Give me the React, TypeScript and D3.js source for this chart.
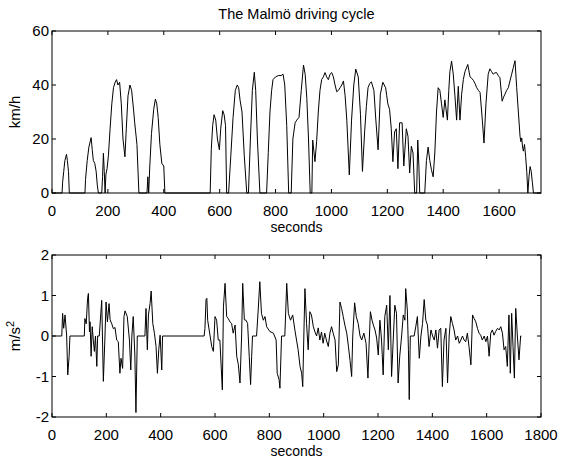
import React from "react";
import * as d3 from "d3";

// Speed profile (seconds, km/h)
const speedT = [0, 36, 38, 42, 46, 52, 55, 59, 62, 118, 120, 126, 132, 140, 144, 148, 153, 158, 162, 166, 178, 181, 184, 187, 190, 193, 197, 202, 208, 214, 220, 226, 231, 236, 242, 248, 254, 261, 266, 272, 279, 285, 292, 296, 299, 304, 311, 340, 343, 346, 350, 356, 364, 370, 375, 380, 386, 393, 400, 404, 566, 570, 575, 580, 586, 592, 599, 604, 611, 616, 621, 625, 632, 640, 648, 656, 663, 668, 673, 680, 688, 697, 703, 710, 717, 724, 729, 735, 744, 768, 774, 780, 786, 791, 800, 810, 820, 827, 833, 840, 847, 856, 862, 870, 876, 884, 892, 900, 906, 912, 918, 924, 930, 933, 941, 947, 953, 959, 965, 971, 977, 983, 989, 995, 1001, 1007, 1013, 1019, 1025, 1031, 1037, 1043, 1049, 1055, 1064, 1072, 1080, 1087, 1096, 1104, 1111, 1119, 1125, 1131, 1137, 1143, 1152, 1159, 1167, 1175, 1184, 1194, 1198, 1202, 1208, 1214, 1220, 1226, 1232, 1238, 1244, 1253, 1259, 1268, 1274, 1280, 1286, 1292, 1298, 1305, 1309, 1313, 1316, 1334, 1340, 1346, 1352, 1358, 1364, 1370, 1376, 1382, 1388, 1394, 1400, 1406, 1415, 1420, 1424, 1430, 1436, 1442, 1448, 1454, 1460, 1466, 1472, 1478, 1488, 1496, 1502, 1508, 1514, 1520, 1526, 1532, 1540, 1546, 1553, 1561, 1567, 1573, 1579, 1585, 1591, 1597, 1603, 1611, 1616, 1621, 1627, 1633, 1639, 1645, 1651, 1657, 1663, 1669, 1675, 1678, 1681, 1684, 1687, 1691, 1695, 1699, 1703, 1707, 1711, 1715, 1719, 1723, 1750];
const speedV = [0, 0, 4, 8, 12, 14.3, 12, 8, 0, 0, 5, 12, 17, 20.5, 16, 12, 11, 8, 3, 0, 0, 6, 14.7, 8, 0, 7, 9, 14, 24, 33, 39, 41, 42, 40, 41, 33, 20, 13.4, 24, 36, 40, 38, 30.7, 26, 23, 18, 0, 0, 6, 0, 10, 22, 31, 34.8, 33, 28, 18, 11, 10, 0, 0, 16, 25, 29, 27, 20, 16, 24, 30.5, 29, 25, 0, 0, 14, 28, 38, 40, 39, 34.4, 30, 14, 0, 0, 20, 38, 44.7, 38, 20, 0, 0, 15, 30, 38, 42, 43, 43.5, 43.5, 44, 40, 25, 0, 0, 20, 26, 27, 28, 38, 47.4, 44, 35, 20, 0, 0, 19.6, 11.6, 19, 30, 38, 42, 43, 44.6, 43, 42, 44, 44.6, 43, 40, 37.5, 38, 39, 40, 41.5, 36, 27, 6.7, 27, 40, 45.9, 43, 29, 8, 23, 32, 39, 40.5, 41.2, 38, 27, 16, 36.6, 41, 39, 36, 33, 31, 24, 11.6, 22.6, 23.8, 9, 26, 26, 10, 23.8, 21, 7.4, 17.3, 14.8, 0, 0, 19.6, 10, 0, 0, 12, 17, 12, 8.6, 6, 14.8, 30, 39, 38, 33, 28, 34.5, 27, 38, 45, 48.8, 44, 36, 27, 39.5, 27, 36.6, 42, 45, 47.6, 43, 42.5, 41.7, 40.5, 39, 38, 37.2, 27, 18.5, 33, 44, 46, 45, 44, 44.5, 44.6, 43.5, 42.7, 34, 35.5, 36.6, 38, 39, 41.5, 44, 46.5, 49, 39, 30, 21, 19, 20.4, 17, 15.5, 18, 13.6, 8, 0, 6, 9.8, 8, 4, 0, 0];

// Acceleration (seconds, m/s^2)
const accT = [0, 36, 39, 43, 48, 54, 58, 63, 66, 119, 121, 126, 131, 134, 138, 140, 144, 148, 152, 156, 160, 165, 168, 174, 183, 189, 195, 199, 204, 210, 214, 220, 226, 232, 238, 244, 250, 254, 260, 265, 269, 277, 285, 290, 294, 299, 305, 309, 314, 342, 346, 351, 355, 361, 365, 371, 377, 383, 388, 393, 398, 404, 407, 560, 563, 567, 570, 573, 582, 588, 594, 600, 606, 612, 618, 627, 631, 637, 643, 649, 655, 661, 667, 674, 680, 686, 692, 698, 702, 708, 714, 720, 726, 731, 735, 738, 753, 759, 765, 771, 778, 784, 790, 802, 815, 825, 829, 836, 839, 845, 857, 864, 870, 878, 886, 894, 906, 913, 919, 923, 927, 931, 937, 943, 949, 955, 962, 968, 974, 980, 986, 992, 998, 1004, 1010, 1017, 1023, 1029, 1035, 1042, 1048, 1054, 1060, 1066, 1072, 1078, 1085, 1091, 1097, 1103, 1107, 1114, 1120, 1127, 1134, 1140, 1148, 1156, 1163, 1167, 1172, 1178, 1183, 1189, 1195, 1201, 1207, 1213, 1219, 1225, 1232, 1238, 1244, 1250, 1256, 1262, 1268, 1274, 1280, 1287, 1293, 1299, 1302, 1308, 1312, 1315, 1319, 1333, 1339, 1345, 1352, 1358, 1364, 1370, 1376, 1382, 1388, 1395, 1401, 1407, 1413, 1419, 1425, 1431, 1437, 1443, 1450, 1456, 1462, 1468, 1474, 1480, 1486, 1493, 1499, 1505, 1511, 1517, 1523, 1529, 1535, 1542, 1548, 1554, 1560, 1566, 1572, 1578, 1584, 1591, 1597, 1603, 1609, 1615, 1621, 1627, 1633, 1640, 1646, 1652, 1658, 1664, 1670, 1676, 1682, 1687, 1692, 1697, 1702, 1707, 1713, 1719, 1725, 1728, 1800];
const accV = [0, 0, 0.56, 0.19, 0.52, 0, -0.96, -0.5, 0, 0, 0.43, 0.3, 0.93, 1.05, 0.1, 0.35, -0.5, 0.23, -0.1, -0.38, 0, -0.75, 0, 0, 0.88, -1.12, 0, 0.84, 0.35, 0.8, 0.4, 0.3, 0.18, 0.21, -0.1, -0.14, -0.92, -0.55, -0.8, 0.48, 0.62, 0.48, -0.1, -0.84, 0, 0.48, -0.47, -1.89, 0, 0, 0.68, -0.34, 0.52, 0.8, 1.11, 0.31, 0.07, -0.26, -0.92, -0.34, 0.02, -0.84, 0, 0, 0.19, 0.9, 0.93, 0.39, 0, -0.26, -0.38, 0.48, 0.39, -0.1, -0.1, -1.33, 0.72, 1.3, 0.48, 0.43, 0.35, 0.31, 0.07, 0.27, -0.5, -0.71, -1.16, 0, 1.3, 0.4, 0.39, 0.31, -0.5, -1.2, -0.5, 0, 0, 0.64, 1.34, 0.56, 0.39, 0.48, 0.23, 0.11, 0.07, -0.1, -0.92, -1.08, -1.29, 0, 0, 1.3, 0.56, 0.39, 0.52, 0.15, -0.34, -0.75, -0.92, -1.25, 0, 1.17, 0.31, -0.34, 0.6, 0.52, 0.23, 0.1, 0, 0.2, -0.1, 0.1, -0.18, 0.07, -0.1, -0.26, 0.07, 0.23, 0.07, -0.1, -0.88, -0.71, 0.84, 0.68, 0.48, 0.27, 0.07, -0.25, -0.6, -1.0, 0, 0.82, 0.48, 0.31, 0, -0.1, 0.07, -0.18, -1.04, -0.25, 0.6, 0.39, 0.27, 0.15, -0.05, -0.47, 0.39, -0.1, -0.96, 0.48, 0.76, -0.34, 1.0, -1.0, -0.1, 0.76, 0.56, -1.16, -0.5, 0, 0.52, 0.39, 1.17, 0.64, -0.34, -1.57, 0, 0, 0.23, 0.48, -0.55, 0, 0.31, 0.9, 0.39, 0.27, -0.26, 0.15, 0, -0.1, 0.15, -0.3, 0.15, 0.19, -1.25, -0.1, 0.19, -1.16, 0, 0.48, 0.31, 0.15, -0.1, 0, -0.18, -0.1, 0, -0.1, -0.14, 0.07, -0.26, -0.71, 0.52, 0.43, 0.35, 0.19, 0.07, 0.02, -0.1, 0, -0.14, 0, -0.5, 0.07, 0.15, 0.02, 0.11, 0.19, 0.15, 0.23, 0.07, -0.34, -0.26, -0.75, 0.52, -0.92, 0.56, -0.26, -1.04, 0.68, 0, -0.59, 0, 0];

const speedXTicks = [0, 200, 400, 600, 800, 1000, 1200, 1400, 1600];
const speedYTicks = [0, 20, 40, 60];
const accXTicks = [0, 200, 400, 600, 800, 1000, 1200, 1400, 1600, 1800];
const accYTicks = [-2, -1, 0, 1, 2];

const FONT = "Liberation Sans, Arial, sans-serif";

type PanelProps = {
  xs: number[];
  ys: number[];
  xDomain: [number, number];
  yDomain: [number, number];
  xTicks: number[];
  yTicks: number[];
  top: number;
  bottom: number;
  ylabel: React.ReactNode;
};

const LEFT = 52;
const RIGHT = 541;

function Panel({ xs, ys, xDomain, yDomain, xTicks, yTicks, top, bottom, ylabel }: PanelProps) {
  const x = d3.scaleLinear().domain(xDomain).range([LEFT, RIGHT]);
  const y = d3.scaleLinear().domain(yDomain).range([bottom, top]);
  const pts: [number, number][] = xs.map((t, i) => [t, ys[i]]);
  const line = d3
    .line<[number, number]>()
    .x((d) => x(d[0]))
    .y((d) => y(d[1]));
  const tl = 4;
  return (
    <g>
      <path d={line(pts) || ""} fill="none" stroke="#000" strokeWidth={1} />
      <rect x={LEFT} y={top} width={RIGHT - LEFT} height={bottom - top} fill="none" stroke="#000" strokeWidth={1} />
      {xTicks.map((t) => (
        <g key={"x" + t}>
          <line x1={x(t)} x2={x(t)} y1={bottom} y2={bottom - tl} stroke="#000" />
          <line x1={x(t)} x2={x(t)} y1={top} y2={top + tl} stroke="#000" />
          <text x={x(t)} y={bottom + 23} textAnchor="middle" fontSize={15} fontFamily={FONT}>
            {t}
          </text>
        </g>
      ))}
      {yTicks.map((v) => (
        <g key={"y" + v}>
          <line x1={LEFT} x2={LEFT + tl} y1={y(v)} y2={y(v)} stroke="#000" />
          <line x1={RIGHT} x2={RIGHT - tl} y1={y(v)} y2={y(v)} stroke="#000" />
          <text x={49} y={y(v) + 5} textAnchor="end" fontSize={15} fontFamily={FONT}>
            {v}
          </text>
        </g>
      ))}
      <text x={(LEFT + RIGHT) / 2} y={bottom + 39} textAnchor="middle" fontSize={14} fontFamily={FONT}>
        seconds
      </text>
      <text
        transform={`translate(20,${(top + bottom) / 2}) rotate(-90)`}
        textAnchor="middle"
        fontSize={15}
        fontFamily={FONT}
      >
        {ylabel}
      </text>
    </g>
  );
}

export default function App() {
  return (
    <svg
      width={567}
      height={459}
      style={{ position: "absolute", left: 0, top: 0, background: "#fff" }}
    >
      <rect x={0} y={0} width={567} height={459} fill="#fff" />
      <text x={(LEFT + RIGHT) / 2} y={19} textAnchor="middle" fontSize={14.5} fontFamily={FONT}>
        The Malmö driving cycle
      </text>
      <Panel
        xs={speedT}
        ys={speedV}
        xDomain={[0, 1750]}
        yDomain={[0, 60]}
        xTicks={speedXTicks}
        yTicks={speedYTicks}
        top={31}
        bottom={193}
        ylabel="km/h"
      />
      <Panel
        xs={accT}
        ys={accV}
        xDomain={[0, 1800]}
        yDomain={[-2, 2]}
        xTicks={accXTicks}
        yTicks={accYTicks}
        top={255}
        bottom={417}
        ylabel={
          <>
            m/s<tspan dy={-6} fontSize={11}>2</tspan>
          </>
        }
      />
    </svg>
  );
}
